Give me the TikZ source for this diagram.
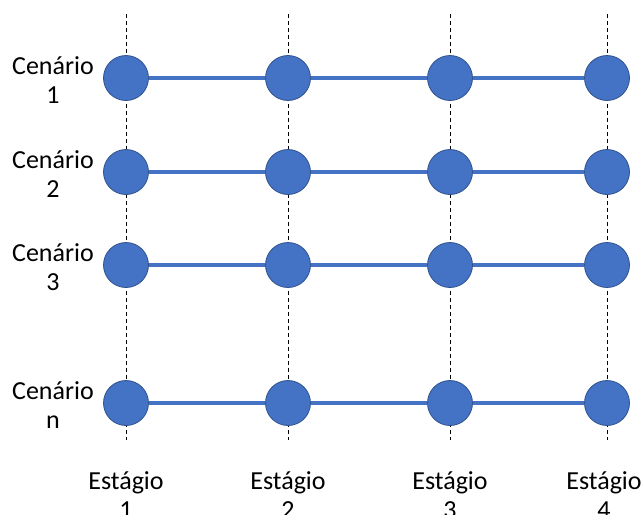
\documentclass[tikz,border=0pt]{standalone}
\usepackage{fontspec}
\setmainfont{Carlito}
\usetikzlibrary{positioning}
\definecolor{nodeblue}{HTML}{4472C4}
\definecolor{rimblue}{HTML}{2F528F}

\begin{document}
\begin{tikzpicture}[x=0.75pt, y=-0.75pt,
  state/.style={circle, draw=rimblue, line width=0.6pt, fill=nodeblue, minimum size=33.75pt, inner sep=0pt},
  link/.style={draw=nodeblue, line width=3.5pt},
  guide/.style={black, line width=0.7pt, dash pattern=on 3pt off 2.2pt},
  lbl/.style={font=\fontsize{19.5}{21.75}\selectfont, align=center, inner sep=0pt}
]
  \useasboundingbox (0,0) rectangle (644,515);

  % stage guide lines
  \foreach \c/\x in {1/126, 2/288, 3/450, 4/607} {
    \coordinate (top\c) at (\x,14);
    \coordinate (bot\c) at (\x,440);
    \draw[guide] (top\c) -- (bot\c);
  }

  % states
  \foreach \r/\y in {1/78, 2/172, 3/265, n/403} {
    \foreach \c/\x in {1/126, 2/288, 3/450, 4/607} {
      \node[state] (s\r\c) at (\x,\y) {};
    }
    \draw[link] (s\r1) -- (s\r2);
    \draw[link] (s\r2) -- (s\r3);
    \draw[link] (s\r3) -- (s\r4);
  }

  % scenario labels
  \node[lbl] (cen1) at (53,80) {Cenário\\1};
  \node[lbl] (cen2) at (53,174) {Cenário\\2};
  \node[lbl] (cen3) at (53,267) {Cenário\\3};
  \node[lbl] (cenn) at (53,405) {Cenário\\n};

  % stage labels
  \node[lbl] (est1) at (126,495) {Estágio\\1};
  \node[lbl] (est2) at (288,495) {Estágio\\2};
  \node[lbl] (est3) at (450,495) {Estágio\\3};
  \node[lbl] (est4) at (604,495) {Estágio\\4};
\end{tikzpicture}
\end{document}
